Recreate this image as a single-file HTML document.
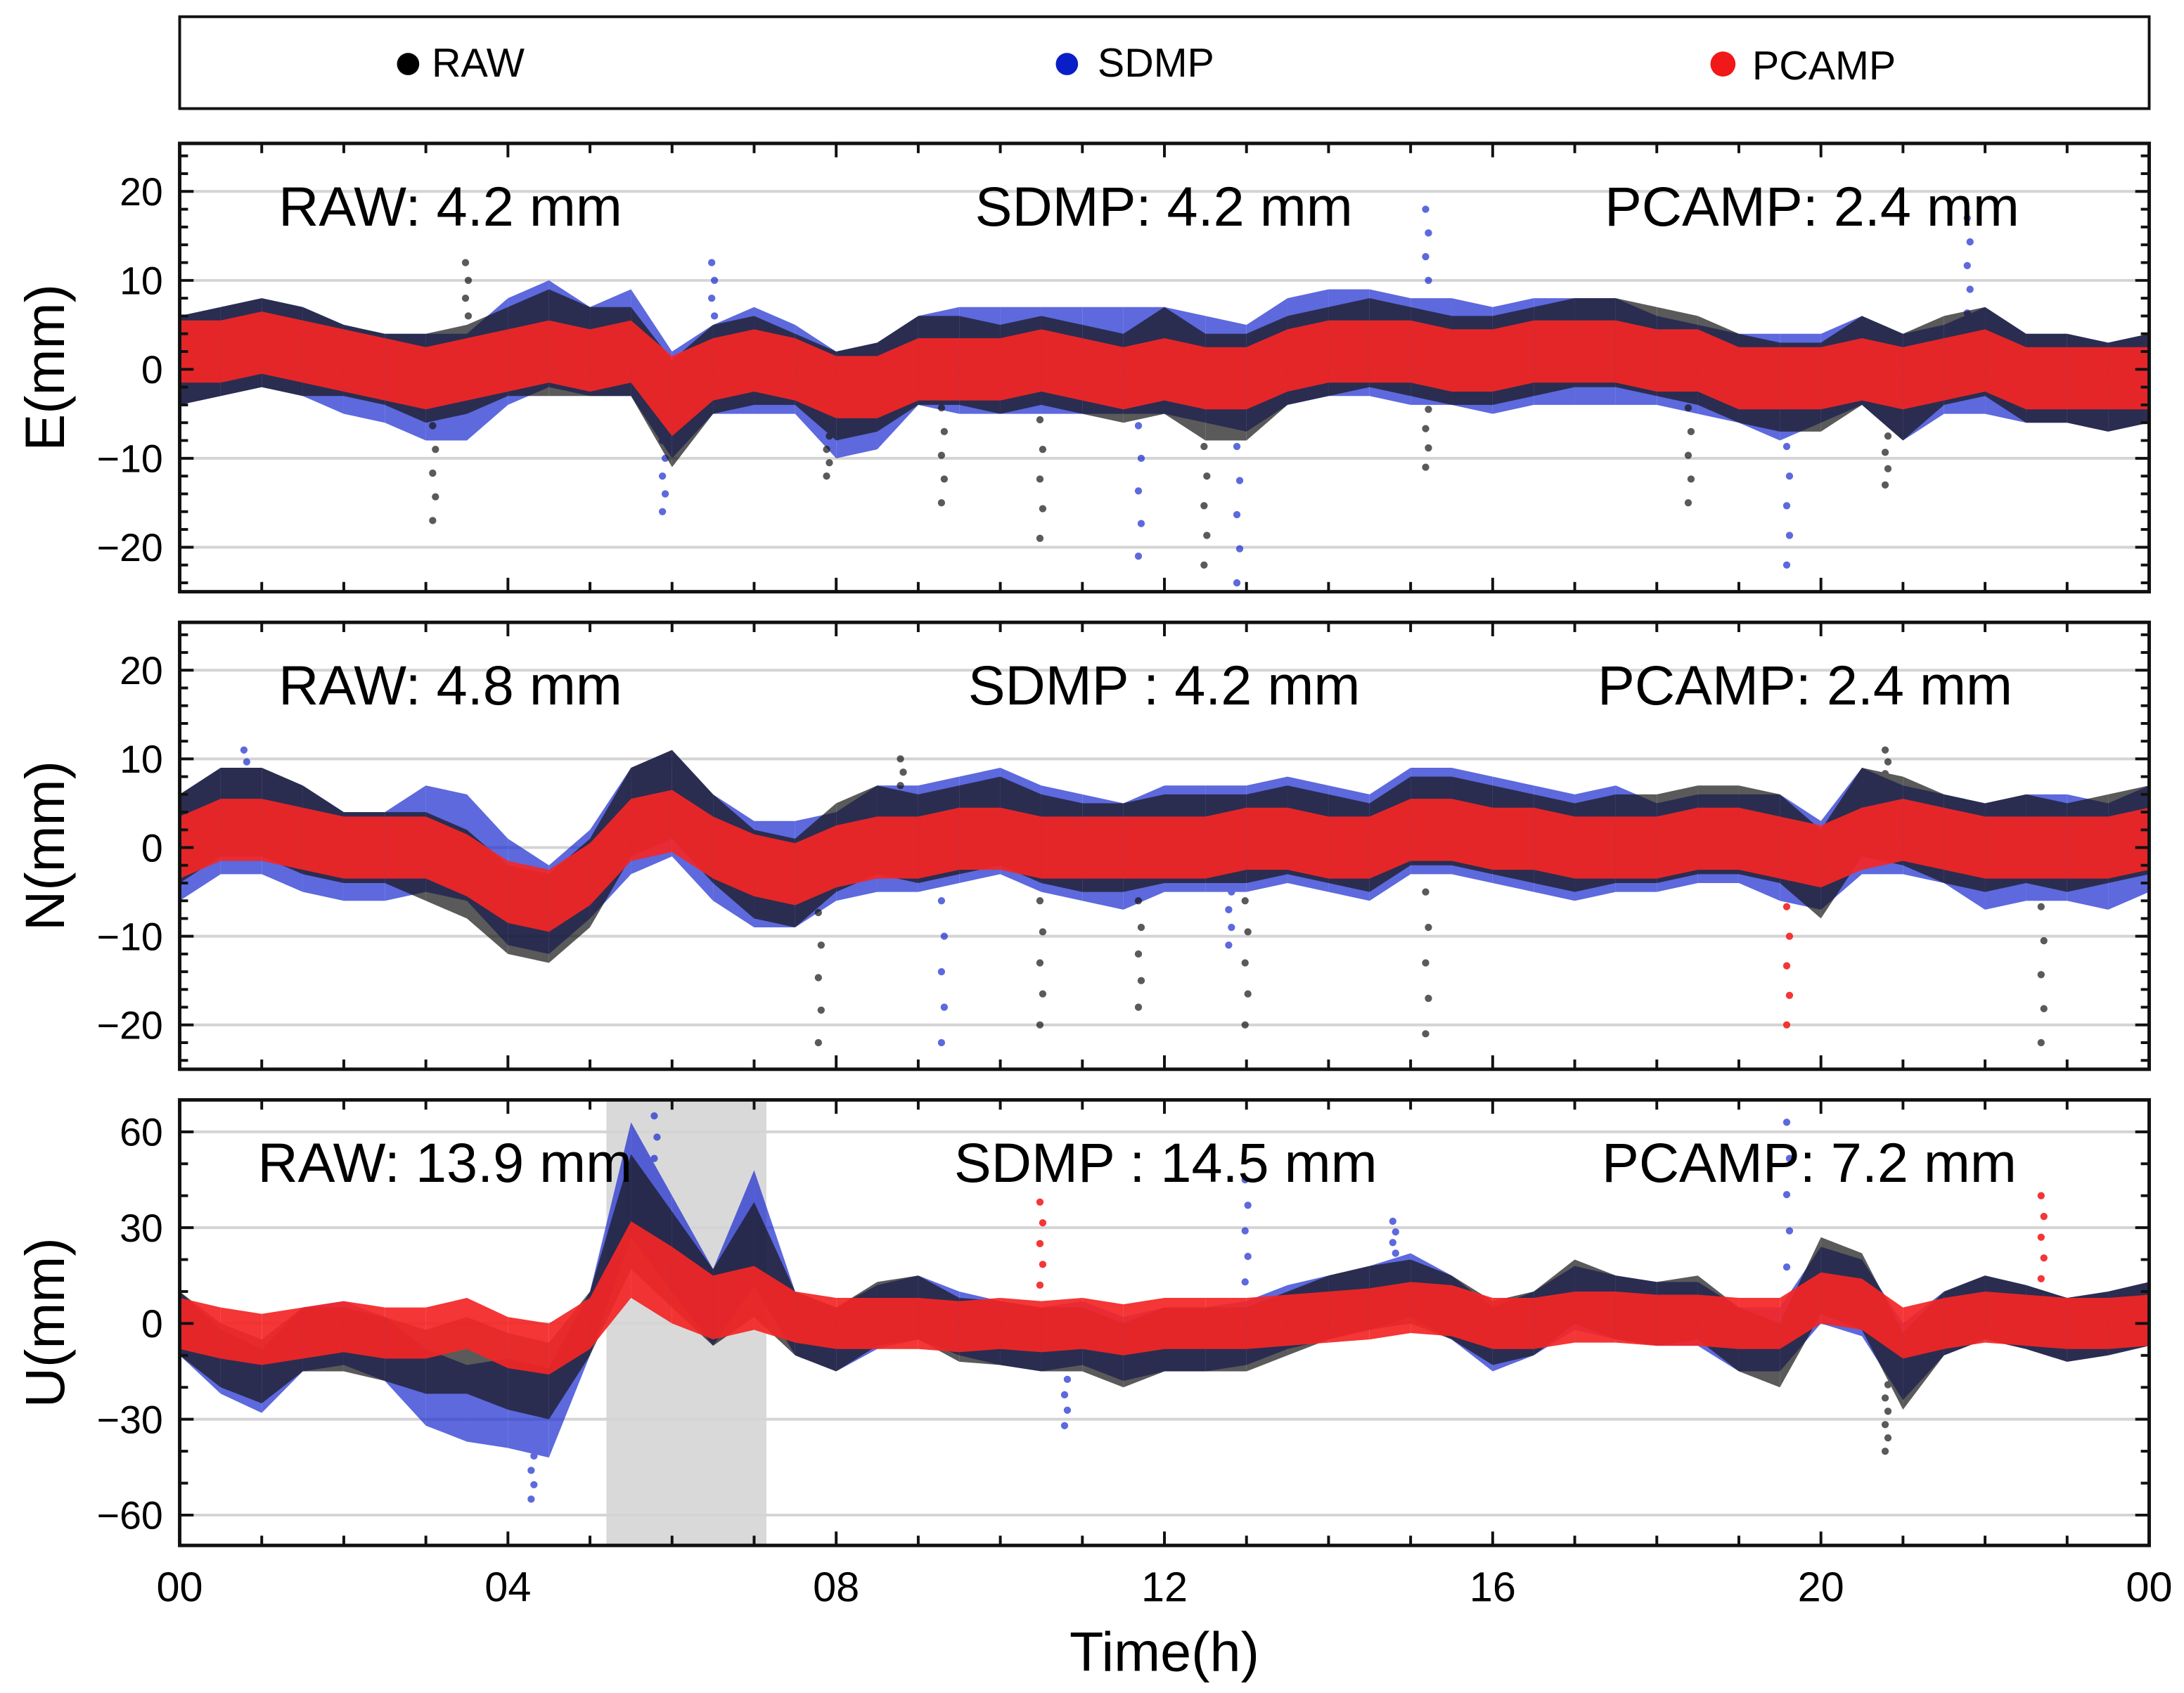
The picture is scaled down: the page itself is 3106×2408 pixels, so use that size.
<!DOCTYPE html>
<html><head><meta charset="utf-8"><style>
html,body{margin:0;padding:0;background:#fff;}
svg{display:block;}
text{font-family:"Liberation Sans",Arial,sans-serif;}
</style></head><body>
<svg id="chart" width="3106" height="2408" viewBox="0 0 1568 1216" preserveAspectRatio="none" xmlns="http://www.w3.org/2000/svg">
<g>
<rect x="129" y="12" width="1414" height="66" fill="#fff" stroke="#111" stroke-width="2"/>
<g><circle cx="293" cy="46" r="8" fill="#000"/><text x="310" y="55" font-size="29">RAW</text></g>
<g><circle cx="766" cy="46" r="8" fill="#0a1ec8"/><text x="788" y="55" font-size="29">SDMP</text></g>
<g><circle cx="1237" cy="46" r="9" fill="#f01818"/><text x="1258" y="57" font-size="29">PCAMP</text></g>
</g>
<g id="panels"></g>
<text x="836" y="1200" font-size="40" text-anchor="middle">Time(h)</text>
</svg>
<script>
const times = [0,0.5,1,1.5,2,2.5,3,3.5,4,4.5,5,5.5,6,6.5,7,7.5,8,8.5,9,9.5,10,10.5,11,11.5,12,12.5,13,13.5,14,14.5,15,15.5,16,16.5,17,17.5,18,18.5,19,19.5,20,20.5,21,21.5,22,22.5,23,23.5,24];
const xTickLabels = ["00","04","08","12","16","20","00"];
const seriesNames = ["RAW","SDMP","PCAMP"];
// E component
const eRawC = [1,2,3,2,1,0,-1,0,2,3,2,2,-5,0,1,0,-3,-2,1,1,0,1,0,-1,1,-2,-2,1,2,3,2,1,1,2,3,3,2,1,-1,-2,-2,1,-2,1,2,-1,-1,-2,-1];
const eRawS = [5,5,5,5,4,4,5,5,5,6,5,5,6,5,5,4,5,5,5,5,5,5,5,5,6,6,6,5,5,5,5,5,5,5,5,5,5,5,5,5,5,5,6,5,5,5,5,5,5];
const eSdC = [1,2,3,2,0,-1,-2,-2,2,4,2,3,-4,0,1,0,-4,-3,1,1,1,1,1,1,1,0,-1,2,3,3,2,2,1,2,2,2,1,0,-1,-2,-1,1,-2,0,1,-1,-1,-2,-1];
const eSdS = [5,5,5,5,5,5,6,6,6,6,5,6,6,5,6,5,6,6,5,6,6,6,6,6,6,6,6,6,6,6,6,6,6,6,6,6,5,5,5,6,5,5,6,5,6,5,5,5,5];
const ePcC = [2,2,3,2,1,0,-1,0,1,2,1,2,-3,0,1,0,-2,-2,0,0,0,1,0,-1,0,-1,-1,1,2,2,2,1,1,2,2,2,1,1,-1,-1,-1,0,-1,0,1,-1,-1,-1,-1];
const ePcS = [3.5,3.5,3.5,3.5,3.5,3.5,3.5,3.5,3.5,3.5,3.5,3.5,4.5,3.5,3.5,3.5,3.5,3.5,3.5,3.5,3.5,3.5,3.5,3.5,3.5,3.5,3.5,3.5,3.5,3.5,3.5,3.5,3.5,3.5,3.5,3.5,3.5,3.5,3.5,3.5,3.5,3.5,3.5,3.5,3.5,3.5,3.5,3.5,3.5];
const eOutT = [3.1,5.9,7.9,9.3,10.5,11.7,12.5,12.9,15.2,18.4,19.6,20.8,21.8,15.2,3.5,6.5];
const eOutV = [-17,-16,-12,-15,-19,-21,-22,-24,-11,-15,-22,-13,17,18,12,12];
const eOutS = [0,1,0,0,0,1,0,1,0,0,1,0,1,1,0,1];
// N component
const nRawC = [1,4,4,2,0,0,-1,-3,-7,-8,-4,4,6,1,-3,-4,0,2,1,2,3,1,0,0,1,1,1,2,1,0,3,3,2,1,0,1,1,2,2,1,-3,4,3,1,0,1,0,1,2];
const nRawS = [5,5,5,5,4,4,5,5,5,5,5,5,5,5,5,5,5,5,5,5,5,5,5,5,5,5,5,5,5,5,5,5,5,5,5,5,5,5,5,5,5,5,5,5,5,5,5,5,5];
const nSdC = [0,3,3,1,-1,-1,1,0,-5,-7,-3,3,5,0,-3,-3,-1,1,1,2,3,1,0,-1,1,1,1,2,1,0,3,3,2,1,0,1,0,1,1,0,-2,3,2,1,-1,0,0,-1,1];
const nSdS = [6,6,6,6,5,5,6,6,6,5,5,6,6,6,6,6,5,6,6,6,6,6,6,6,6,6,6,6,6,6,6,6,6,6,6,6,5,5,5,6,5,6,5,5,6,6,6,6,6];
const nPcC = [0,2,2,1,0,0,0,-2,-5,-6,-3,2,3,0,-2,-3,-1,0,0,1,1,0,0,0,0,0,1,1,0,0,2,2,1,1,0,0,0,1,1,0,-1,1,2,1,0,0,0,0,1];
const nPcS = [3.5,3.5,3.5,3.5,3.5,3.5,3.5,3.5,3.5,3.5,3.5,3.5,3.5,3.5,3.5,3.5,3.5,3.5,3.5,3.5,3.5,3.5,3.5,3.5,3.5,3.5,3.5,3.5,3.5,3.5,3.5,3.5,3.5,3.5,3.5,3.5,3.5,3.5,3.5,3.5,3.5,3.5,3.5,3.5,3.5,3.5,3.5,3.5,3.5];
const nOutT = [7.8,9.3,10.5,11.7,13.0,15.2,19.6,22.7,0.8,8.8,20.8,12.8];
const nOutV = [-22,-22,-20,-18,-20,-21,-20,-22,11,10,11,-11];
const nOutS = [0,1,0,0,0,0,2,0,1,0,0,1];
// U component
const uRawC = [0,-10,-15,-5,-5,-8,-12,-10,-15,-18,0,35,20,5,20,0,-5,3,5,-2,-3,-5,-5,-10,-5,-5,-5,0,5,8,10,5,-3,0,10,5,3,5,-5,-10,15,10,-15,0,5,2,-2,0,3];
const uRawS = [10,10,10,10,10,10,10,12,12,12,10,18,15,12,18,10,10,10,10,10,10,10,10,10,10,10,10,10,10,10,10,10,10,10,10,10,10,10,10,10,12,12,12,10,10,10,10,10,10];
const uSdC = [0,-12,-18,-5,-3,-8,-20,-25,-25,-28,0,45,25,5,30,0,-5,2,5,0,-3,-5,-3,-8,-5,-5,-3,2,5,8,12,5,-5,0,8,5,3,3,-5,-5,12,8,-12,0,5,2,-2,0,3];
const uSdS = [10,10,10,10,10,10,12,12,14,14,10,18,15,12,18,10,10,10,10,10,10,10,10,10,10,10,10,10,10,10,10,10,10,10,10,10,10,10,10,10,12,12,12,10,10,10,10,10,10];
const uPcC = [0,-3,-5,-3,-1,-3,-3,0,-6,-8,0,20,12,5,8,2,0,0,0,-1,0,-1,0,-2,0,0,0,1,2,3,5,4,0,0,2,2,1,1,0,0,8,6,-3,0,2,1,0,0,1];
const uPcS = [8,8,8,8,8,8,8,8,8,8,8,12,12,10,10,8,8,8,8,8,8,8,8,8,8,8,8,8,8,8,8,8,8,8,8,8,8,8,8,8,8,8,8,8,8,8,8,8,8];
const uOutT = [4.3,5.8,10.5,13.0,19.6,20.8,22.7,10.8,14.8];
const uOutV = [-55,65,38,45,63,-40,40,-32,32];
const uOutS = [1,1,2,1,1,0,2,1,1];

const eStats = ["RAW: 4.2 mm","SDMP: 4.2 mm","PCAMP: 2.4 mm"];
const nStats = ["RAW: 4.8 mm","SDMP : 4.2 mm","PCAMP: 2.4 mm"];
const uStats = ["RAW: 13.9 mm","SDMP : 14.5 mm","PCAMP: 7.2 mm"];
const eTicks = [20,10,0,-10,-20];
const nTicks = [20,10,0,-10,-20];
const uTicks = [60,30,0,-30,-60];

const NS="http://www.w3.org/2000/svg";
const root=document.getElementById('panels');
const X0=129,X1=1543;
const xs=t=>X0+(t/24)*(X1-X0);
const colors=["#151515","#1a2ad0","#f42626"];
const opac=[0.7,0.7,0.92];
function el(tag,attrs,parent){const e=document.createElementNS(NS,tag);for(const k in attrs)e.setAttribute(k,attrs[k]);(parent||root).appendChild(e);return e;}

function panel(cfg){
  const g=el('g',{});
  
  
  const ys=v=>cfg.top+(cfg.max-v)/(cfg.max-cfg.min)*(cfg.bot-cfg.top);
  el('rect',{x:X0,y:cfg.top,width:X1-X0,height:cfg.bot-cfg.top,fill:'#fff'},g);
  if(cfg.band){const r=el('rect',{x:xs(cfg.band[0]),y:cfg.top,width:xs(cfg.band[1])-xs(cfg.band[0]),height:cfg.bot-cfg.top,fill:'#d9d9d9'},g);
    
    }
  cfg.ticks.forEach(v=>{
    const l=el('line',{x1:X0,x2:X1,y1:ys(v),y2:ys(v),stroke:'#d4d4d4','stroke-width':2},g);
    
    
  });
  const C=[cfg.rawC,cfg.sdC,cfg.pcC],S=[cfg.rawS,cfg.sdS,cfg.pcS];
  const order=[1,0,2];
  order.forEach(si=>{
    const sg=el('g',{fill:colors[si],opacity:opac[si]},g);
    
    
    for(let i=0;i<times.length-1;i++){
      const c0=C[si][i],c1=C[si][i+1],s0=S[si][i],s1=S[si][i+1];
      const p=el('polygon',{points:[xs(times[i]),ys(c0+s0),xs(times[i+1]),ys(c1+s1),xs(times[i+1]),ys(c1-s1),xs(times[i]),ys(c0-s0)].join(' ')},sg);
      
      
    }
    cfg.outT.forEach((t,k)=>{
      if(cfg.outS[k]!==si)return;
      const i=Math.round(t*2);const base=C[si][i];
      const v=cfg.outV[k];
      const n=6;
      for(let j=1;j<=n;j++){
        const vv=base+(v-base)*j/n;
        const d=el('circle',{cx:xs(t)+(j%2?1:-1),cy:ys(vv),r:2.6},sg);
        
        
      }
    });
  });
  const fr=el('rect',{x:X0,y:cfg.top,width:X1-X0,height:cfg.bot-cfg.top,fill:'none',stroke:'#111','stroke-width':2.5},g);
  
  
  for(let h=0;h<=24;h++){
    const L=h%4==0?10:7;
    el('line',{x1:xs(h),x2:xs(h),y1:cfg.bot,y2:cfg.bot-L,stroke:'#111','stroke-width':2},g);
    el('line',{x1:xs(h),x2:xs(h),y1:cfg.top,y2:cfg.top+L,stroke:'#111','stroke-width':2},g);
  }
  const step=cfg.minor;
  for(let v=Math.ceil(cfg.min/step)*step;v<=cfg.max;v+=step){
    const major=cfg.ticks.includes(v);
    const L=major?10:6;
    el('line',{x1:X0,x2:X0+L,y1:ys(v),y2:ys(v),stroke:'#111','stroke-width':2},g);
    el('line',{x1:X1,x2:X1-L,y1:ys(v),y2:ys(v),stroke:'#111','stroke-width':2},g);
  }
  cfg.ticks.forEach(v=>{
    const t=el('text',{x:X0-12,y:ys(v)+10,'font-size':28,'text-anchor':'end'},g);
    t.textContent=(v<0?'\u2212'+(-v):String(v));
    
    
  });
  const yl=el('text',{x:0,y:0,'font-size':40,'text-anchor':'middle',transform:`translate(46,${(cfg.top+cfg.bot)/2}) rotate(-90)`},g);
  yl.textContent=cfg.label;
  
  
  cfg.stats.forEach((s,k)=>{
    const t=el('text',{x:cfg.statX[k],y:cfg.top+59,'font-size':40},g);
    t.textContent=s;
    
    
  });
  return g;
}
panel({name:'east',label:'E(mm)',top:103,bot:425,max:25.4,min:-25,ticks:eTicks,minor:2,rawC:eRawC,rawS:eRawS,sdC:eSdC,sdS:eSdS,pcC:ePcC,pcS:ePcS,outT:eOutT,outV:eOutV,outS:eOutS,stats:eStats,statX:[200,700,1152]});
panel({name:'north',label:'N(mm)',top:447,bot:768,max:25.4,min:-25,ticks:nTicks,minor:2,rawC:nRawC,rawS:nRawS,sdC:nSdC,sdS:nSdS,pcC:nPcC,pcS:nPcS,outT:nOutT,outV:nOutV,outS:nOutS,stats:nStats,statX:[200,695,1147]});
panel({name:'up',label:'U(mm)',top:790,bot:1110,max:70,min:-69.5,ticks:uTicks,minor:10,rawC:uRawC,rawS:uRawS,sdC:uSdC,sdS:uSdS,pcC:uPcC,pcS:uPcS,outT:uOutT,outV:uOutV,outS:uOutS,stats:uStats,statX:[185,685,1150],band:[5.2,7.15]});
xTickLabels.forEach((lab,i)=>{
  const t=el('text',{x:xs(i*4),y:1150,'font-size':30,'text-anchor':'middle'});
  t.textContent=lab;
  
  
});
</script>
</body></html>
